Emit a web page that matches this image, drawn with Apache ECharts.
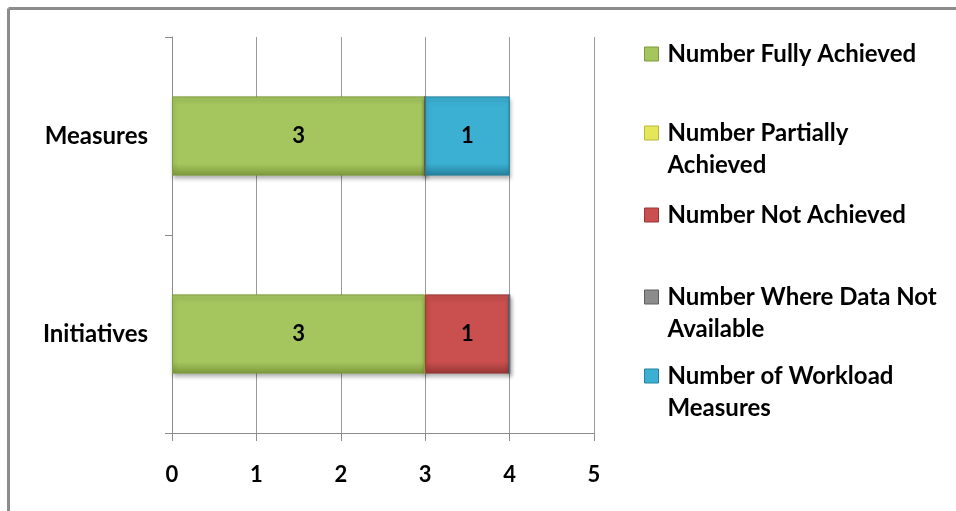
<!DOCTYPE html>
<html>
<head>
<meta charset="utf-8">
<script src="https://cdn.jsdelivr.net/npm/echarts@6/dist/echarts.min.js"></script>
<style>
html,body{margin:0;padding:0;background:#fff;}
#c{width:956px;height:511px;}
</style>
</head>
<body>
<div id="c"></div>
<script>
var categories = ['Initiatives', 'Measures'];
var seriesNames = ['Number Fully Achieved', 'Number Partially Achieved', 'Number Not Achieved', 'Number Where Data Not Available', 'Number of Workload Measures'];
var fullyAchieved = [3, 3];
var partiallyAchieved = [0, 0];
var notAchieved = [1, 0];
var dataNotAvailable = [0, 0];
var workloadMeasures = [0, 1];
var xTicks = [0, 1, 2, 3, 4, 5];

var values = [fullyAchieved, partiallyAchieved, notAchieved, dataNotAvailable, workloadMeasures];
var fills = ['#a5c65f', '#e6e65a', '#c9504e', '#8c8c8c', '#3bb0d2'];
var borders = ['#7d9a3c', '#b8b83a', '#963735', '#5e5e5e', '#25809c'];
var legendLabels = ['Number Fully Achieved', 'Number Partially\nAchieved', 'Number Not Achieved', 'Number Where Data Not\nAvailable', 'Number of Workload\nMeasures'];
var legendCenters = [52, 131, 213, 295, 374];
var FONT = 'Lato';

var chart = echarts.init(document.getElementById('c'), null, {renderer: 'canvas'});

var series = seriesNames.map(function (n, i) {
  return {
    name: n,
    type: 'bar',
    stack: 'total',
    barWidth: '40%',
    data: values[i],
    itemStyle: {
      color: {
        type: 'linear', x: 0, y: 0, x2: 0, y2: 1,
        colorStops: [
          {offset: 0, color: fills[i]},
          {offset: 0.85, color: fills[i]},
          {offset: 1, color: borders[i]}
        ]
      },
      borderColor: borders[i],
      borderWidth: 1,
      shadowBlur: 4,
      shadowOffsetY: 3,
      shadowOffsetX: 1,
      shadowColor: 'rgba(0,0,0,0.3)'
    },
    label: {
      show: true,
      position: 'inside',
      color: '#000',
      fontFamily: FONT,
      fontWeight: 'bold',
      fontSize: 22,
      formatter: function (p) { return p.value ? String(p.value) : ''; }
    }
  };
});

var legendText = {fontFamily: FONT, fontWeight: 'bold', fontSize: 24, color: '#000', lineHeight: 32};

var legends = seriesNames.map(function (n, i) {
  var lines = legendLabels[i].split('\n');
  var twoLine = lines.length > 1;
  return {
    left: 639,
    top: legendCenters[i] - (twoLine ? 48 : 16) - 3,
    orient: 'vertical',
    itemWidth: 14,
    itemHeight: 14,
    itemGap: 0,
    icon: 'rect',
    selectedMode: false,
    data: [{name: n, itemStyle: {color: fills[i], borderColor: borders[i], borderWidth: 1}}],
    formatter: function () {
      var out = lines.map(function (l) { return '{t|' + l + '}'; });
      if (twoLine) out.unshift('{t| }');
      return out.join('\n');
    },
    textStyle: Object.assign({}, legendText, {
      rich: {t: Object.assign({}, legendText, {padding: [0, 0, 0, 4]})}
    })
  };
});

chart.setOption({
  animation: false,
  backgroundColor: '#fff',
  grid: {left: 172, right: 362, top: 37, bottom: 78},
  legend: legends,
  xAxis: {
    type: 'value',
    min: 0, max: 5, interval: 1,
    axisLine: {show: true, lineStyle: {color: '#8c8c8c', width: 1}},
    axisTick: {show: true, length: 8, lineStyle: {color: '#8c8c8c'}},
    splitLine: {show: true, lineStyle: {color: '#9a9a9a', width: 1}},
    axisLabel: {
      margin: 31, color: '#000', fontFamily: FONT, fontWeight: 'bold', fontSize: 22,
      formatter: function (v) { return xTicks.indexOf(v) >= 0 ? String(v) : ''; }
    }
  },
  yAxis: {
    type: 'category',
    data: categories,
    axisLine: {show: true, lineStyle: {color: '#8c8c8c', width: 1}},
    axisTick: {show: true, length: 7, lineStyle: {color: '#8c8c8c'}},
    axisLabel: {margin: 24, color: '#000', fontFamily: FONT, fontWeight: 'bold', fontSize: 24}
  },
  series: series,
  graphic: [
    {type: 'line', shape: {x1: 8.5, y1: 8.5, x2: 956, y2: 8.5}, style: {stroke: '#8c8c8c', lineWidth: 3}, silent: true},
    {type: 'line', shape: {x1: 8.5, y1: 8.5, x2: 8.5, y2: 511}, style: {stroke: '#8c8c8c', lineWidth: 3}, silent: true}
  ]
});
</script>
</body>
</html>
